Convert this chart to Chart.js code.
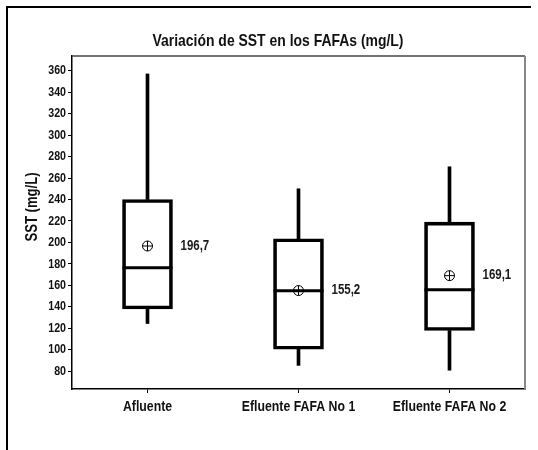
<!DOCTYPE html>
<html>
<head>
<meta charset="utf-8">
<script src="https://cdn.jsdelivr.net/npm/chart.js@4.4.1/dist/chart.umd.min.js"></script>
<style>
  html, body { margin: 0; padding: 0; background: #fff; }
  #wrap { width: 538px; height: 450px; }
</style>
</head>
<body>
<div id="wrap"><canvas id="c" width="538" height="450"></canvas></div>
<script>
// Suspended solids (SST, mg/L) per sampling point: box-plot summary
const categories  = ['Afluente', 'Efluente FAFA No 1', 'Efluente FAFA No 2'];
const whiskerLow  = [124.5, 85.5, 81];
const quartile1   = [138, 100.5, 118];
const medians     = [176.5, 155, 156];
const quartile3   = [240, 203.5, 219];
const whiskerHigh = [357, 250, 270.5];
const means       = [196.7, 155.2, 169.1];
const yTicks      = [80, 100, 120, 140, 160, 180, 200, 220, 240, 260, 280, 300, 320, 340, 360];
const yRange      = [63.5, 373.7];

const chartTitle = 'Variación de SST en los FAFAs (mg/L)';
const yTitle = 'SST (mg/L)';

const FAMILY = '"Liberation Sans", Arial, sans-serif';
const SQUEEZE = 0.82;   // horizontal squeeze for a narrow sans look
const INK = '#111';

const pairs = (a, b) => a.map((v, i) => [v, b[i]]);
const fmt = v => v.toFixed(1).replace('.', ',');

// draw text with a condensed width
function narrowText(ctx, text, x, y, size, weight, align, baseline, rotate) {
  ctx.save();
  ctx.translate(x, y);
  if (rotate) ctx.rotate(rotate);
  ctx.scale(SQUEEZE, 1);
  ctx.font = (weight ? weight + ' ' : '') + size + 'px ' + FAMILY;
  ctx.textAlign = align;
  ctx.textBaseline = baseline;
  ctx.fillText(text, 0, 0);
  ctx.restore();
}

// page frame, plot outline, title, axis labels and mean labels
const decorations = {
  id: 'decorations',
  beforeDraw(chart) {
    const ctx = chart.ctx;
    ctx.save();
    ctx.fillStyle = '#fff';
    ctx.fillRect(0, 0, chart.width, chart.height);
    ctx.strokeStyle = '#000';
    ctx.lineWidth = 2;
    ctx.beginPath();
    ctx.moveTo(7, chart.height);
    ctx.lineTo(7, 7);
    ctx.lineTo(531, 7);
    ctx.stroke();
    ctx.restore();
  },
  afterDraw(chart) {
    const ctx = chart.ctx;
    const a = chart.chartArea;
    const xs = chart.scales.x, ys = chart.scales.y;
    ctx.save();
    // top and right edges of the plot frame
    ctx.lineWidth = 1.5;
    ctx.strokeStyle = '#444';
    ctx.beginPath();
    ctx.moveTo(a.left, a.top);
    ctx.lineTo(a.right, a.top);
    ctx.stroke();
    ctx.lineWidth = 2;
    ctx.strokeStyle = '#888';
    ctx.beginPath();
    ctx.moveTo(a.right, a.top);
    ctx.lineTo(a.right, a.bottom);
    ctx.stroke();

    ctx.fillStyle = INK;
    // chart title
    narrowText(ctx, chartTitle, 278, 41, 17, 'bold', 'center', 'middle');
    // y-axis title
    narrowText(ctx, yTitle, 33, 207, 16, 'bold', 'center', 'middle', -Math.PI / 2);

    // y tick labels
    yTicks.forEach(v => {
      narrowText(ctx, String(v), a.left - 6, ys.getPixelForValue(v), 13, 'bold', 'right', 'middle');
    });
    // category labels
    categories.forEach((c, i) => {
      narrowText(ctx, c, xs.getPixelForTick(i), a.bottom + 10, 15, 'bold', 'center', 'top');
    });

    // mean value labels
    const meta = chart.getDatasetMeta(chart.data.datasets.findIndex(d => d.id === 'meanRing'));
    ctx.fillStyle = '#1a1a1a';
    meta.data.forEach((pt, i) => {
      narrowText(ctx, fmt(means[i]), pt.x + 33, pt.y, 14, 'bold', 'left', 'middle');
    });
    ctx.restore();
  }
};

new Chart(document.getElementById('c'), {
  data: {
    labels: categories,
    datasets: [
      {
        type: 'bar', label: 'Caja', data: pairs(quartile1, quartile3),
        grouped: false, barThickness: 50, order: 5,
        backgroundColor: 'rgba(0,0,0,0)', borderColor: '#000', borderWidth: 3, borderSkipped: false
      },
      {
        type: 'bar', label: 'Bigote superior', data: pairs(quartile3, whiskerHigh),
        grouped: false, barThickness: 3, order: 6,
        backgroundColor: '#000', borderWidth: 0
      },
      {
        type: 'bar', label: 'Bigote inferior', data: pairs(whiskerLow, quartile1),
        grouped: false, barThickness: 3, order: 6,
        backgroundColor: '#000', borderWidth: 0
      },
      {
        type: 'line', label: 'Mediana', data: medians, showLine: false, order: 2,
        pointStyle: 'line', pointRadius: 25, pointBorderWidth: 3, pointBorderColor: '#000'
      },
      {
        type: 'line', id: 'meanRing', label: 'Media', data: means, showLine: false, order: 1,
        pointStyle: 'circle', pointRadius: 5, pointBorderWidth: 1,
        pointBorderColor: '#000', pointBackgroundColor: 'rgba(0,0,0,0)'
      },
      {
        type: 'line', label: 'Media (cruz)', data: means, showLine: false, order: 1,
        pointStyle: 'cross', pointRadius: 5, pointBorderWidth: 1, pointBorderColor: '#000'
      }
    ]
  },
  options: {
    responsive: false,
    devicePixelRatio: 1,
    animation: false,
    layout: { autoPadding: false, padding: { top: 56, right: 13, left: 0, bottom: 0 } },
    plugins: { legend: { display: false }, title: { display: false }, tooltip: { enabled: false } },
    scales: {
      x: {
        type: 'category',
        offset: true,
        grid: { offset: false, drawOnChartArea: false, tickLength: 4, color: '#000' },
        border: { color: '#000', width: 1.5 },
        ticks: { display: false, autoSkip: false, maxRotation: 0 },
        afterFit(s) { s.height = 61; }
      },
      y: {
        type: 'linear',
        min: yRange[0], max: yRange[1],
        afterBuildTicks(s) { s.ticks = yTicks.map(v => ({ value: v })); },
        grid: { drawOnChartArea: false, tickLength: 4, color: '#000' },
        border: { color: '#000', width: 1.5 },
        ticks: { display: false },
        afterFit(s) { s.width = 72; }
      }
    }
  },
  plugins: [decorations]
});
</script>
</body>
</html>
